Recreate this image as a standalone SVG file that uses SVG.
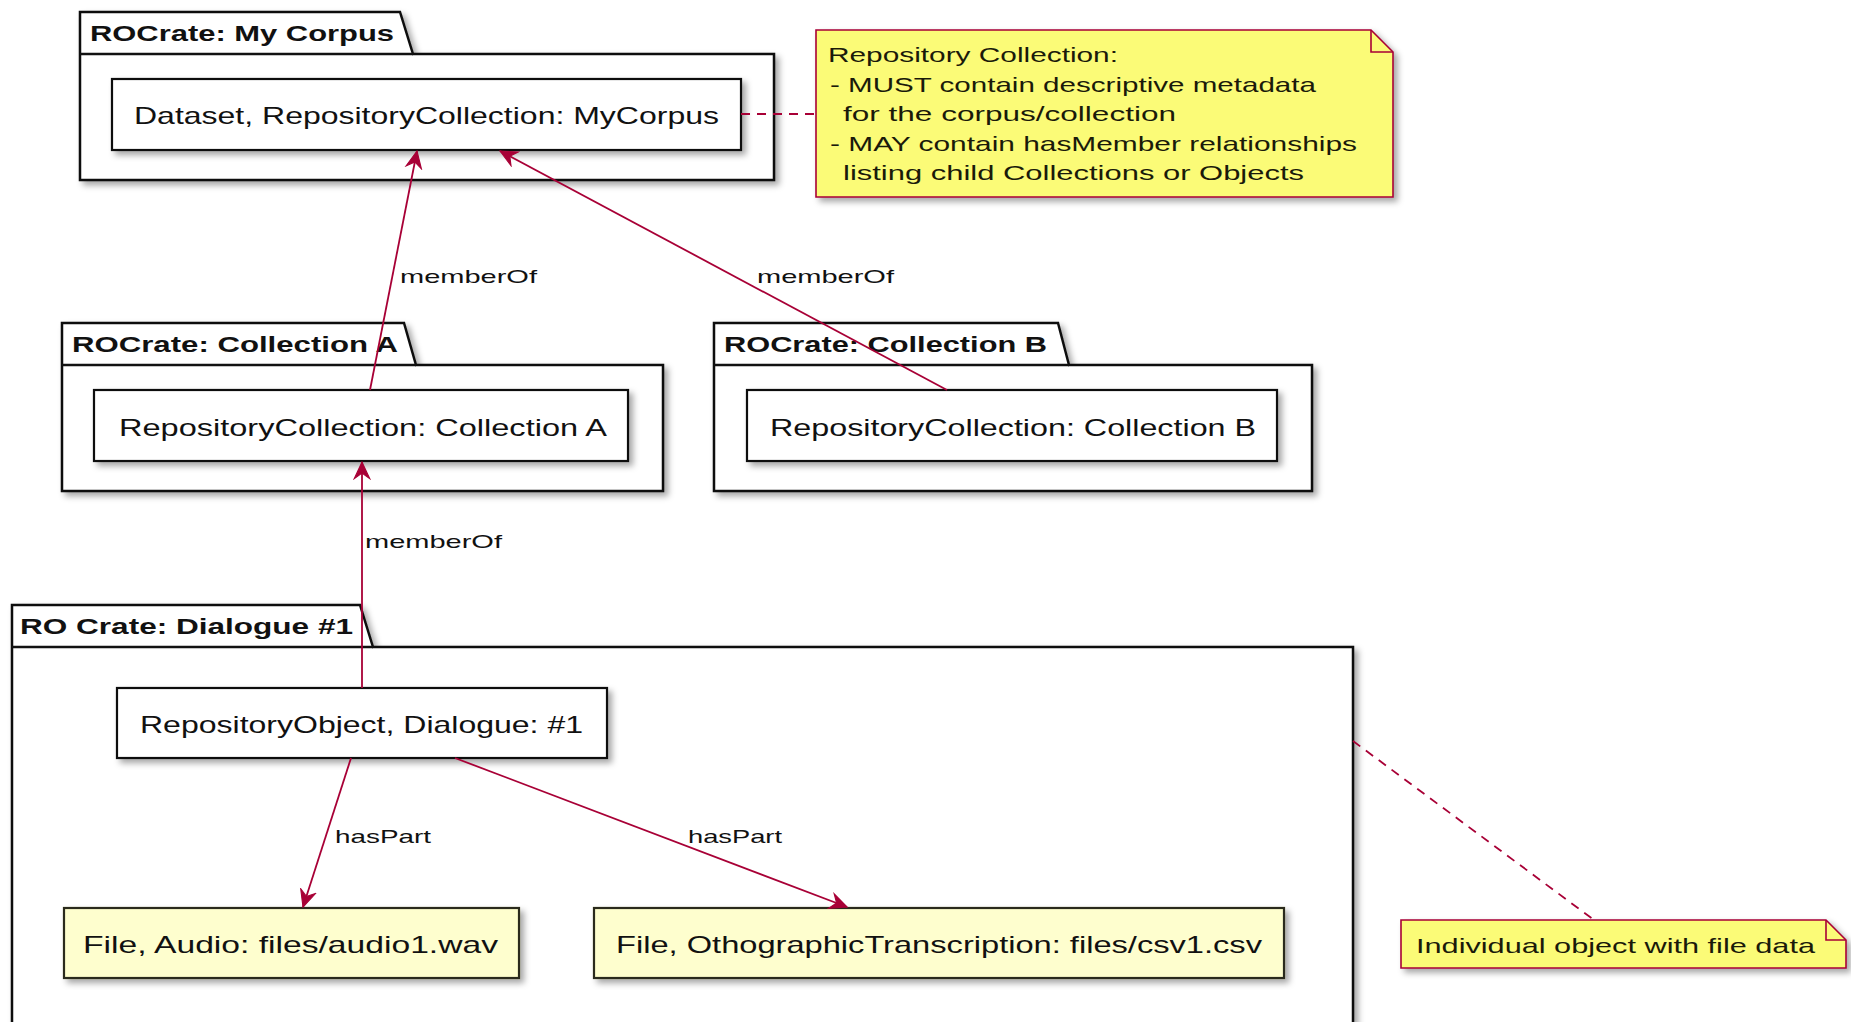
<svg xmlns="http://www.w3.org/2000/svg" width="1851" height="1022" viewBox="0 0 1851 1022">
<style>
  text { font-family: "Liberation Sans", Arial, sans-serif; fill: #111; }
  .pkg { fill: #fff; stroke: #111; stroke-width: 2.5; }
  .tabline { fill: none; stroke: #111; stroke-width: 2.5; }
  .ptitle { font-size: 22px; font-weight: bold; }
  .box { fill: #fff; stroke: #111; stroke-width: 2.2; }
  .file { fill: #FEFECE; stroke: #2a2a1a; stroke-width: 2.2; }
  .btext { font-size: 24px; }
  .note { fill: #FBFB77; stroke: #A80036; stroke-width: 1.6; }
  .fold { fill: none; stroke: #A80036; stroke-width: 1.6; }
  .ntext { font-size: 21px; fill: #1a1a0a; }
  .elabel { font-size: 19px; }
  .edge { fill: none; stroke: #A80036; stroke-width: 1.8; }
  .dash { fill: none; stroke: #A80036; stroke-width: 1.8; stroke-dasharray: 9 7; }
</style>
<defs>
  <filter id="sh" x="-5%" y="-10%" width="115%" height="140%">
    <feDropShadow dx="4" dy="4" stdDeviation="3" flood-color="#000" flood-opacity="0.35"/>
  </filter>
  <marker id="arr" markerUnits="userSpaceOnUse" markerWidth="20" markerHeight="20" viewBox="-16 -8 18 16" refX="0" refY="0" orient="auto">
    <path d="M0,0 L-15,-7 L-10,0 L-15,7 Z" fill="#A80036" stroke="#A80036" stroke-width="1"/>
  </marker>
</defs>
<rect width="1851" height="1022" fill="#fff"/>

<!-- Package: My Corpus -->
<g id="pkg-mycorpus">
  <path class="pkg" filter="url(#sh)" d="M80,180 L80,12 L400,12 L413,54 L774,54 L774,180 Z"/>
  <path class="tabline" d="M80,54 L413,54"/>
  <text class="ptitle" x="90" y="41" textLength="304" lengthAdjust="spacingAndGlyphs">ROCrate: My Corpus</text>
</g>

<!-- Package: Collection A -->
<g id="pkg-colla">
  <path class="pkg" filter="url(#sh)" d="M62,491 L62,323 L404,323 L416,365 L663,365 L663,491 Z"/>
  <path class="tabline" d="M62,365 L416,365"/>
  <text class="ptitle" x="72" y="352" textLength="326" lengthAdjust="spacingAndGlyphs">ROCrate: Collection A</text>
</g>

<!-- Package: Collection B -->
<g id="pkg-collb">
  <path class="pkg" filter="url(#sh)" d="M714,491 L714,323 L1058,323 L1069,365 L1312,365 L1312,491 Z"/>
  <path class="tabline" d="M714,365 L1069,365"/>
  <text class="ptitle" x="724" y="352" textLength="323" lengthAdjust="spacingAndGlyphs">ROCrate: Collection B</text>
</g>

<!-- Package: Dialogue #1 -->
<g id="pkg-dialogue">
  <path class="pkg" filter="url(#sh)" d="M12,1040 L12,605 L360,605 L373,647 L1353,647 L1353,1040 Z"/>
  <path class="tabline" d="M12,647 L373,647"/>
  <text class="ptitle" x="20" y="634" textLength="333" lengthAdjust="spacingAndGlyphs">RO Crate: Dialogue #1</text>
</g>

<!-- Nodes -->
<g id="node-mycorpus">
  <rect class="box" filter="url(#sh)" x="112" y="79" width="629" height="71"/>
  <text class="btext" x="134" y="124" textLength="585" lengthAdjust="spacingAndGlyphs">Dataset, RepositoryCollection: MyCorpus</text>
</g>
<g id="node-colla">
  <rect class="box" filter="url(#sh)" x="94" y="390" width="534" height="71"/>
  <text class="btext" x="119" y="436" textLength="488" lengthAdjust="spacingAndGlyphs">RepositoryCollection: Collection A</text>
</g>
<g id="node-collb">
  <rect class="box" filter="url(#sh)" x="747" y="390" width="530" height="71"/>
  <text class="btext" x="770" y="436" textLength="486" lengthAdjust="spacingAndGlyphs">RepositoryCollection: Collection B</text>
</g>
<g id="node-dialogue">
  <rect class="box" filter="url(#sh)" x="117" y="688" width="490" height="70"/>
  <text class="btext" x="140" y="733" textLength="443" lengthAdjust="spacingAndGlyphs">RepositoryObject, Dialogue: #1</text>
</g>
<g id="node-audio">
  <rect class="file" filter="url(#sh)" x="64" y="908" width="455" height="70"/>
  <text class="btext" x="83" y="953" textLength="415" lengthAdjust="spacingAndGlyphs">File, Audio: files/audio1.wav</text>
</g>
<g id="node-csv">
  <rect class="file" filter="url(#sh)" x="594" y="908" width="690" height="70"/>
  <text class="btext" x="616" y="953" textLength="646" lengthAdjust="spacingAndGlyphs">File, OthographicTranscription: files/csv1.csv</text>
</g>

<!-- Notes -->
<g id="note-collection">
  <path class="note" filter="url(#sh)" d="M816,30 L1371,30 L1393,52 L1393,197 L816,197 Z"/>
  <path class="fold" d="M1371,30 L1371,52 L1393,52"/>
  <text class="ntext" x="828" y="62" textLength="290" lengthAdjust="spacingAndGlyphs">Repository Collection:</text>
  <text class="ntext" x="830" y="92" textLength="486" lengthAdjust="spacingAndGlyphs">- MUST contain descriptive metadata</text>
  <text class="ntext" x="843" y="121" textLength="333" lengthAdjust="spacingAndGlyphs">for the corpus/collection</text>
  <text class="ntext" x="830" y="151" textLength="527" lengthAdjust="spacingAndGlyphs">- MAY contain hasMember relationships</text>
  <text class="ntext" x="843" y="180" textLength="461" lengthAdjust="spacingAndGlyphs">listing child Collections or Objects</text>
</g>
<g id="note-object">
  <path class="note" filter="url(#sh)" d="M1401,920 L1826,920 L1846,940 L1846,968 L1401,968 Z"/>
  <path class="fold" d="M1826,920 L1826,940 L1846,940"/>
  <text class="ntext" x="1416" y="953" textLength="399" lengthAdjust="spacingAndGlyphs">Individual object with file data</text>
</g>

<!-- Connectors -->
<g id="connectors">
  <path class="dash" d="M741,114 L816,114"/>
  <path class="dash" d="M1353,741 L1594,920"/>
  <path class="edge" marker-end="url(#arr)" d="M370,390 L417,151"/>
  <path class="edge" marker-end="url(#arr)" d="M947,390 L500,151"/>
  <path class="edge" marker-end="url(#arr)" d="M362,688 L362,462"/>
  <path class="edge" marker-end="url(#arr)" d="M351,758 L303,907"/>
  <path class="edge" marker-end="url(#arr)" d="M455,758 L847,907"/>
  <text class="elabel" x="400" y="283" textLength="137" lengthAdjust="spacingAndGlyphs">memberOf</text>
  <text class="elabel" x="757" y="283" textLength="137" lengthAdjust="spacingAndGlyphs">memberOf</text>
  <text class="elabel" x="365" y="548" textLength="137" lengthAdjust="spacingAndGlyphs">memberOf</text>
  <text class="elabel" x="335" y="843" textLength="96" lengthAdjust="spacingAndGlyphs">hasPart</text>
  <text class="elabel" x="688" y="843" textLength="94" lengthAdjust="spacingAndGlyphs">hasPart</text>
</g>
</svg>
